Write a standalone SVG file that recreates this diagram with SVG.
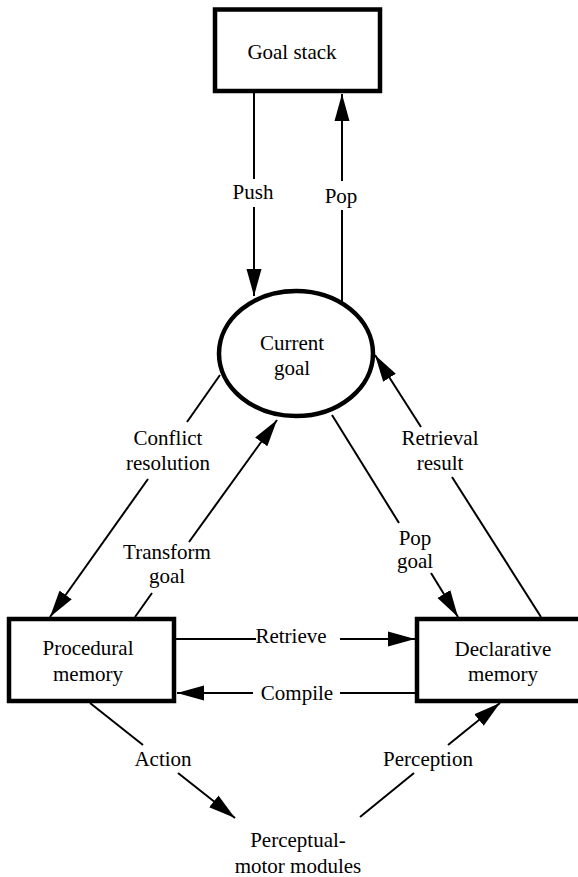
<svg xmlns="http://www.w3.org/2000/svg" width="578" height="877" viewBox="0 0 578 877" font-family="'Liberation Serif', 'DejaVu Serif', serif">
<style>
text{font-family:'Liberation Serif','DejaVu Serif',serif;font-size:21px;fill:#000;text-anchor:middle}
.node{fill:#fff;stroke:#000;stroke-width:4.5}
.c line{stroke:#000;stroke-width:2}
</style>
<defs>
<marker id="ah" markerUnits="userSpaceOnUse" markerWidth="28" markerHeight="16" refX="27" refY="8" orient="auto">
<path d="M0,0.5 L27,8 L0,15.5 z" fill="#000"/>
</marker>
</defs>
<rect width="578" height="877" fill="#fff"/>
<g class="c" id="connectors">
<line x1="254" y1="93" x2="254" y2="179"/>
<line x1="254" y1="207" x2="254" y2="296" marker-end="url(#ah)"/>
<line x1="342" y1="302" x2="342" y2="210"/>
<line x1="342" y1="181" x2="342" y2="94" marker-end="url(#ah)"/>
<line x1="220" y1="375" x2="187" y2="422"/>
<line x1="148" y1="479" x2="50" y2="617" marker-end="url(#ah)"/>
<line x1="135" y1="617" x2="152" y2="593"/>
<line x1="189" y1="542" x2="277" y2="420" marker-end="url(#ah)"/>
<line x1="332" y1="415" x2="399" y2="523"/>
<line x1="431" y1="573" x2="458" y2="617" marker-end="url(#ah)"/>
<line x1="541" y1="617" x2="452" y2="477"/>
<line x1="421" y1="427" x2="375" y2="355" marker-end="url(#ah)"/>
<line x1="176" y1="639" x2="256" y2="639"/>
<line x1="340" y1="639" x2="415" y2="639" marker-end="url(#ah)"/>
<line x1="415" y1="693" x2="340" y2="693"/>
<line x1="253" y1="693" x2="177" y2="693" marker-end="url(#ah)"/>
<line x1="90" y1="703" x2="143" y2="745"/>
<line x1="178" y1="773" x2="235" y2="818" marker-end="url(#ah)"/>
<line x1="360" y1="817" x2="414" y2="773"/>
<line x1="448" y1="745" x2="500" y2="703" marker-end="url(#ah)"/>
</g>
<g id="labels">
<text x="253" y="199">Push</text>
<text x="341" y="203">Pop</text>
<text x="168" y="445">Conflict</text>
<text x="168" y="470">resolution</text>
<text x="167" y="559">Transform</text>
<text x="167" y="583">goal</text>
<text x="415" y="545">Pop</text>
<text x="415" y="568">goal</text>
<text x="440" y="445">Retrieval</text>
<text x="440" y="470">result</text>
<text x="291" y="643">Retrieve</text>
<text x="297" y="700">Compile</text>
<text x="163" y="766">Action</text>
<text x="428" y="766">Perception</text>
</g>
<g id="goal-stack">
<rect class="node" x="215" y="9.5" width="165" height="81.5"/>
<text x="292" y="59">Goal stack</text>
</g>
<g id="current-goal">
<ellipse class="node" cx="296" cy="353.5" rx="77" ry="62.5"/>
<text x="292" y="350">Current</text>
<text x="292" y="375">goal</text>
</g>
<g id="procedural-memory">
<rect class="node" x="9" y="619" width="165" height="82"/>
<text x="88" y="655">Procedural</text>
<text x="88" y="681">memory</text>
</g>
<g id="declarative-memory">
<rect class="node" x="417" y="619" width="180" height="82"/>
<text x="503" y="656">Declarative</text>
<text x="503" y="681">memory</text>
</g>
<g id="perceptual-motor">
<text x="298" y="847">Perceptual-</text>
<text x="298" y="873">motor modules</text>
</g>
</svg>
